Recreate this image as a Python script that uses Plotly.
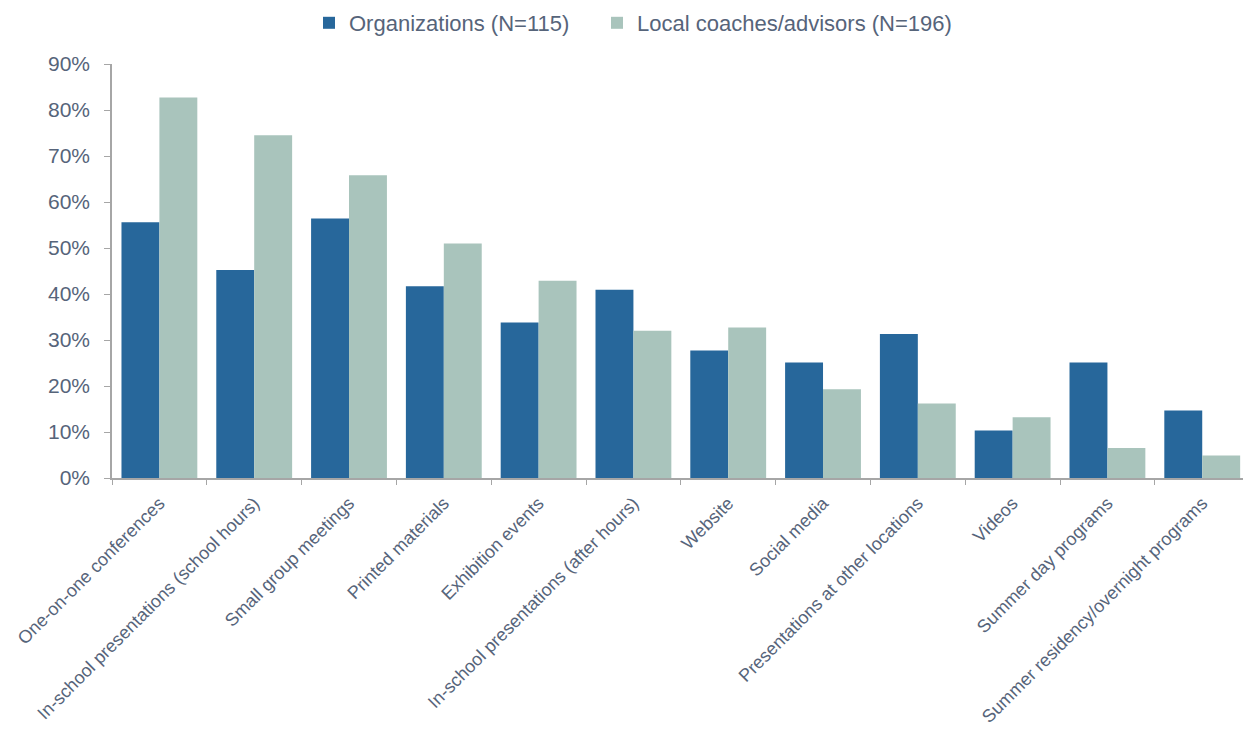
import plotly.graph_objects as go

# Outreach methods used, share of respondents (%)
categories = [
    "One-on-one conferences",
    "In-school presentations (school hours)",
    "Small group meetings",
    "Printed materials",
    "Exhibition events",
    "In-school presentations (after hours)",
    "Website",
    "Social media",
    "Presentations at other locations",
    "Videos",
    "Summer day programs",
    "Summer residency/overnight programs",
]
organizations = [55.6, 45.2, 56.4, 41.7, 33.8, 40.9, 27.7, 25.1, 31.3, 10.3, 25.1, 14.7]
local_coaches = [82.7, 74.5, 65.8, 51.0, 42.9, 32.0, 32.7, 19.3, 16.2, 13.2, 6.5, 4.9]

series_names = ["Organizations (N=115)", "Local coaches/advisors (N=196)"]
y_ticks = [0, 10, 20, 30, 40, 50, 60, 70, 80, 90]
y_tick_labels = ["0%", "10%", "20%", "30%", "40%", "50%", "60%", "70%", "80%", "90%"]

DARK = "#27679b"
LIGHT = "#a9c4bc"
AXIS = "#a6a6a6"
TEXT = "#56647a"
FONT = "Liberation Sans, Arial, sans-serif"

fig = go.Figure()
fig.add_trace(go.Bar(x=categories, y=organizations, name=series_names[0],
                     marker=dict(color=DARK, line=dict(width=0)), legend="legend"))
fig.add_trace(go.Bar(x=categories, y=local_coaches, name=series_names[1],
                     marker=dict(color=LIGHT, line=dict(width=0)), legend="legend2"))

legend_style = dict(orientation="h", xref="container", yref="container",
                    xanchor="left", y=1 - 23 / 730, yanchor="middle",
                    font=dict(size=22, color=TEXT), itemwidth=30,
                    bgcolor="rgba(0,0,0,0)")

fig.update_layout(
    width=1243, height=730,
    margin=dict(l=112, r=0, t=64, b=252, autoexpand=False),
    paper_bgcolor="white", plot_bgcolor="white",
    barmode="group", bargap=0.2, bargroupgap=0,
    font=dict(family=FONT, color=TEXT),
    showlegend=True,
    legend=dict(x=309 / 1243, **legend_style),
    legend2=dict(x=597 / 1243, **legend_style),
)

fig.update_xaxes(
    range=[-0.5, 11.43],
    showline=True, linecolor=AXIS, linewidth=1.5,
    ticks="outside", tickson="boundaries", ticklen=5, tickcolor=AXIS,
    tickangle=-45, tickfont=dict(size=18, color=TEXT), ticklabelstandoff=6,
    showgrid=False, zeroline=False, fixedrange=True,
)
fig.update_yaxes(
    range=[0, 90], tickmode="array", tickvals=y_ticks, ticktext=y_tick_labels,
    showline=True, linecolor=AXIS, linewidth=1.5,
    ticks="outside", ticklen=6, tickcolor=AXIS,
    tickfont=dict(size=21, color=TEXT), ticklabelstandoff=10,
    showgrid=False, zeroline=False, fixedrange=True,
)

fig.write_html("out.html", config={"displayModeBar": False})
